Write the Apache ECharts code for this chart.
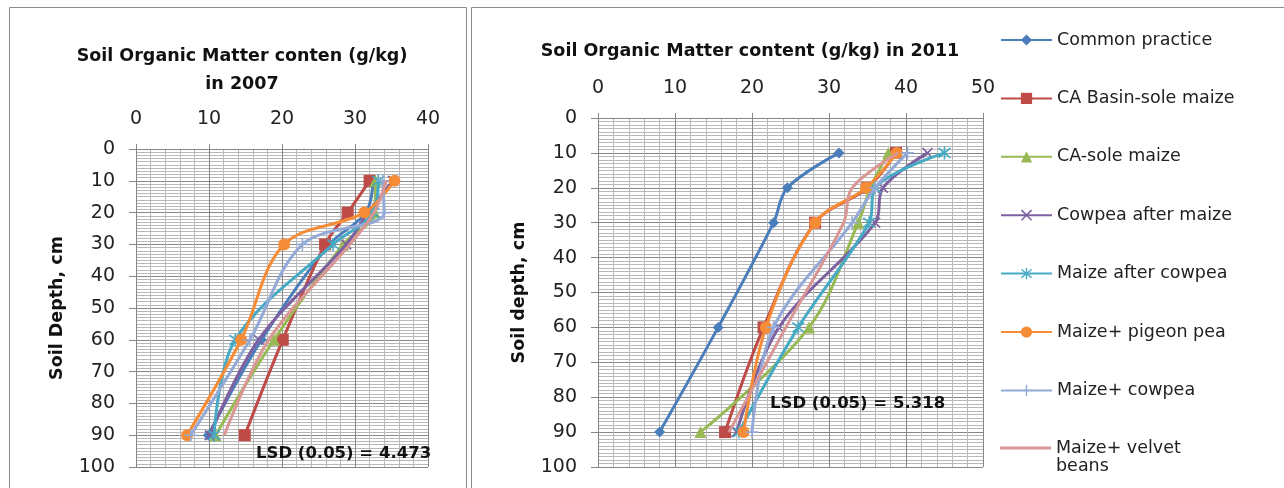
<!DOCTYPE html>
<html>
<head>
<meta charset="utf-8">
<script src="https://cdn.jsdelivr.net/npm/echarts@6/dist/echarts.min.js"></script>
<style>
html,body{margin:0;padding:0;background:#fff;}
#chart{width:1284px;height:488px;}
</style>
</head>
<body>
<div id="chart"></div>
<script>
// ---- data ----
const depths = [10, 20, 30, 60, 90];
const seriesNames = ['Common practice', 'CA Basin-sole maize', 'CA-sole maize', 'Cowpea after maize',
  'Maize after cowpea', 'Maize+ pigeon pea', 'Maize+ cowpea', 'Maize+ velvet beans'];

// 2007 soil organic matter (g/kg) at depths 10,20,30,60,90 cm
const y2007_common      = [32.5, 31.5, 26.5, 17.2, 9.9];
const y2007_basin       = [32.0, 29.0, 25.9, 20.1, 14.9];
const y2007_caSole      = [32.8, 32.7, 28.4, 18.9, 10.9];
const y2007_cowAfter    = [35.2, 31.8, 28.8, 16.8, 10.1];
const y2007_maizeAfter  = [33.2, 32.5, 27.0, 13.6, 10.7];
const y2007_pigeon      = [35.4, 31.3, 20.3, 14.4, 7.0];
const y2007_cowpea      = [33.8, 34.0, 22.8, 15.6, 7.5];
const y2007_velvet      = [34.3, 32.6, 29.3, 18.2, 12.1];

// 2011 soil organic matter (g/kg)
const y2011_common      = [31.3, 24.6, 22.8, 15.6, 8.0];
const y2011_basin       = [38.7, 35.0, 28.2, 21.5, 16.5];
const y2011_caSole      = [37.7, 35.4, 33.8, 27.4, 13.3];
const y2011_cowAfter    = [42.8, 37.0, 36.0, 23.5, 18.0];
const y2011_maizeAfter  = [45.0, 36.0, 35.2, 26.0, 18.3];
const y2011_pigeon      = [38.8, 34.8, 28.2, 21.8, 18.9];
const y2011_cowpea      = [40.2, 36.0, 33.0, 22.8, 20.0];
const y2011_velvet      = [39.0, 33.0, 31.9, 24.4, 17.0];

const xTicks2007 = [0, 10, 20, 30, 40];
const xTicks2011 = [0, 10, 20, 30, 40, 50];
const yTicks = [0, 10, 20, 30, 40, 50, 60, 70, 80, 90, 100];

const title2007 = 'Soil Organic Matter conten (g/kg)\nin 2007';
const title2011 = 'Soil Organic Matter content (g/kg) in 2011';
const lsd2007 = 'LSD (0.05) = 4.473';
const lsd2011 = 'LSD (0.05) = 5.318';

// ---- styles ----
const colors = ['#4A7EBB', '#BE4B48', '#98B954', '#7D60A0', '#46AAC5', '#F68C36', '#93A9D6', '#D99694'];
const X_PATH = 'path://M1,0L5,4L9,0L10,1L6,5L10,9L9,10L5,6L1,10L0,9L4,5L0,1Z';
const AST_PATH = 'path://M1,0L5,4L9,0L10,1L6,5L10,9L9,10L5,6L1,10L0,9L4,5L0,1Z M4.4,-1H5.6V11H4.4Z';
const PLUS_PATH = 'path://M4.4,0H5.6V4.4H10V5.6H5.6V10H4.4V5.6H0V4.4H4.4Z';
const symbols = ['diamond', 'rect', 'triangle', X_PATH, AST_PATH, 'circle', PLUS_PATH, 'none'];
const symbolSizes = [11, 12, 12, 11, 13, 12, 13, 0];

const FONT = 'DejaVu Sans';

const data2007 = [y2007_common, y2007_basin, y2007_caSole, y2007_cowAfter, y2007_maizeAfter, y2007_pigeon, y2007_cowpea, y2007_velvet];
const data2011 = [y2011_common, y2011_basin, y2011_caSole, y2011_cowAfter, y2011_maizeAfter, y2011_pigeon, y2011_cowpea, y2011_velvet];

function makeSeries(arr, idx) {
  return arr.map((vals, i) => ({
    name: seriesNames[i],
    type: 'line',
    xAxisIndex: idx,
    yAxisIndex: idx,
    smooth: 0.35,
    data: depths.map((d, k) => [vals[k], d]),
    symbol: symbols[i],
    symbolSize: symbolSizes[i],
    showSymbol: symbols[i] !== 'none',
    lineStyle: { color: colors[i], width: 3 },
    itemStyle: { color: colors[i], borderColor: colors[i], borderWidth: 0 },
    emphasis: { disabled: true },
    z: 3 + i
  }));
}

function xAxis(idx, ticks) {
  return {
    type: 'value', gridIndex: idx, position: 'top',
    min: ticks[0], max: ticks[ticks.length - 1], interval: 10,
    axisLine: { show: true, onZero: false, lineStyle: { color: '#868686', width: 1 } },
    axisTick: { show: true, length: 5, lineStyle: { color: '#868686' } },
    axisLabel: { color: '#222', fontFamily: FONT, fontSize: 19, margin: 20 },
    splitLine: { show: true, lineStyle: { color: '#868686', width: 1 } },
    minorTick: { show: false, splitNumber: 5 },
    minorSplitLine: { show: true, lineStyle: { color: '#b8b8b8', width: 1 } }
  };
}
function yAxis(idx, name, gap) {
  return {
    type: 'value', gridIndex: idx, inverse: true,
    min: yTicks[0], max: yTicks[yTicks.length - 1], interval: 10,
    name: name, nameLocation: 'middle', nameGap: gap, nameRotate: 90,
    nameTextStyle: { color: '#111', fontFamily: FONT, fontSize: 17.5, fontWeight: 'bold' },
    axisLine: { show: true, onZero: false, lineStyle: { color: '#868686', width: 1 } },
    axisTick: { show: true, length: 7, lineStyle: { color: '#868686' } },
    axisLabel: { color: '#222', fontFamily: FONT, fontSize: 19, margin: 21 },
    splitLine: { show: true, lineStyle: { color: '#868686', width: 1 } },
    minorTick: { show: false, splitNumber: 10 },
    minorSplitLine: { show: true, lineStyle: { color: '#b8b8b8', width: 1 } }
  };
}

const legendText = { color: '#222', fontFamily: FONT, fontSize: 17.5, lineHeight: 18 };

const chart = echarts.init(document.getElementById('chart'), null, { renderer: 'canvas' });
chart.setOption({
  backgroundColor: '#fff',
  animation: false,
  title: [
    { text: title2007, left: 237, top: 37, textAlign: 'center',
      textStyle: { color: '#111', fontFamily: FONT, fontSize: 17.5, fontWeight: 'bold', lineHeight: 28 } },
    { text: title2011, left: 745, top: 37, textAlign: 'center',
      textStyle: { color: '#111', fontFamily: FONT, fontSize: 17.5, fontWeight: 'bold' } }
  ],
  legend: [
    {
      orient: 'vertical', left: 1000, top: 31, padding: 0,
      itemWidth: 51, itemHeight: 14, itemGap: 40.4,
      data: seriesNames.slice(0, 7),
      textStyle: legendText,
      selectedMode: false
    },
    {
      orient: 'vertical', left: 1000, top: 421, padding: 0,
      itemWidth: 51, itemHeight: 3,
      data: [{ name: seriesNames[7], icon: 'rect' }],
      textStyle: legendText,
      formatter: function () { return '\nMaize+ velvet\nbeans'; },
      selectedMode: false
    }
  ],
  grid: [
    { left: 136, top: 149, width: 292, height: 318, containLabel: false },
    { left: 598, top: 118, width: 385, height: 349, containLabel: false }
  ],
  xAxis: [xAxis(0, xTicks2007), xAxis(1, xTicks2011)],
  yAxis: [yAxis(0, 'Soil Depth, cm', 70), yAxis(1, 'Soil depth, cm', 70)],
  graphic: [
    { type: 'rect', shape: { x: 9.5, y: 7.5, width: 457, height: 500 }, style: { fill: 'none', stroke: '#8c8c8c', lineWidth: 1 }, z: 0 },
    { type: 'rect', shape: { x: 471.5, y: 7.5, width: 830, height: 500 }, style: { fill: 'none', stroke: '#8c8c8c', lineWidth: 1 }, z: 0 },
    { type: 'text', left: 256, top: 445, z: 100, style: { text: lsd2007, fill: '#111', font: 'bold 16.5px "DejaVu Sans"' } },
    { type: 'text', left: 770, top: 395, z: 100, style: { text: lsd2011, fill: '#111', font: 'bold 16.5px "DejaVu Sans"' } }
  ],
  series: makeSeries(data2007, 0).concat(makeSeries(data2011, 1))
});
</script>
</body>
</html>
